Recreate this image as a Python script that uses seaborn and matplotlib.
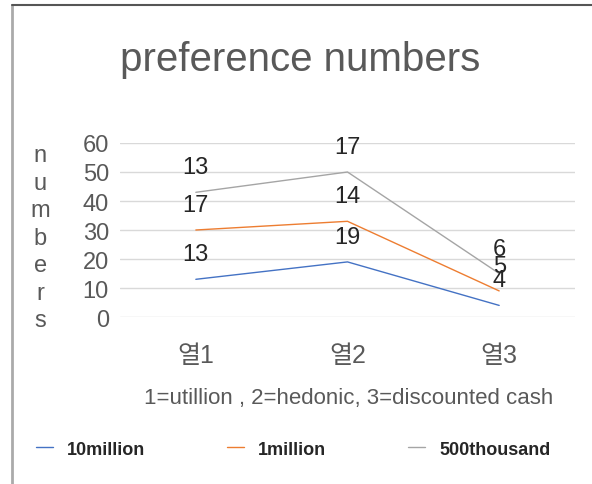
import matplotlib
matplotlib.use("Agg")
import matplotlib.pyplot as plt
import seaborn as sns
import pandas as pd
import numpy as np
from matplotlib.lines import Line2D

categories = ["열1", "열2", "열3"]
series_names = ["10million", "1million", "500thousand"]
v_10million = [13, 19, 4]
v_1million = [17, 14, 5]
v_500thousand = [13, 17, 6]
colors = ["#4472C4", "#ED7D31", "#A5A5A5"]
yticks = [0, 10, 20, 30, 40, 50, 60]

sns.set_theme(style="white")
plt.rcParams["font.family"] = ["Liberation Sans", "Noto Sans CJK KR", "DejaVu Sans"]

values = [v_10million, v_1million, v_500thousand]
cum = np.cumsum(np.array(values), axis=0)
rows = []
for si, name in enumerate(series_names):
    for ci, cat in enumerate(categories):
        rows.append({"category": cat, "series": name, "stacked": cum[si][ci], "value": values[si][ci], "xi": ci})
df = pd.DataFrame(rows)

fig = plt.figure(figsize=(5.92, 4.85), dpi=100)
fig.patch.set_facecolor("white")
ax = fig.add_axes([0.2027, 0.3443, 0.7686, 0.3588])

sns.lineplot(data=df, x="xi", y="stacked", hue="series", palette=colors,
             hue_order=series_names, linewidth=1.0, ax=ax, legend=False, sort=False)

for _, r in df.iterrows():
    ax.annotate(str(r["value"]), (r["xi"], r["stacked"]), xytext=(0, 18),
                textcoords="offset points", ha="center", va="center",
                fontsize=17, color="#262626")

ax.set_xlim(-0.5, 2.5)
ax.set_ylim(0, 60)
ax.set_yticks(yticks)
ax.set_yticklabels([str(t) for t in yticks], fontsize=17, color="#595959")
ax.set_xticks(range(len(categories)))
ax.set_xticklabels(categories, fontsize=18, color="#595959")
ax.tick_params(axis="y", length=0, pad=8)
ax.tick_params(axis="x", length=0, pad=19)
ax.grid(axis="y", color="#D9D9D9", linewidth=1.0)
ax.set_axisbelow(True)
for s in ax.spines.values():
    s.set_visible(False)
ax.set_xlabel("")
ax.set_ylabel("")

fig.text(0.507, 0.876, "preference numbers", ha="center", va="center",
         fontsize=29, color="#595959")
fig.text(0.068, 0.508, "n\nu\nm\nb\ne\nr\ns", ha="center", va="center",
         fontsize=17, color="#595959", linespacing=1.32)
fig.text(0.589, 0.179, "1=utillion , 2=hedonic, 3=discounted cash", ha="center",
         va="center", fontsize=16, color="#595959")

handles = [Line2D([0], [0], color=c, linewidth=1.0) for c in colors]
fig.legend(handles, series_names, loc="center", bbox_to_anchor=(0.495, 0.072),
           ncol=3, frameon=False, prop={"size": 13, "weight": "bold"},
           handlelength=0.95, handletextpad=0.8, columnspacing=4.5)

fig.add_artist(Line2D([0.021, 0.021], [0, 0.988], transform=fig.transFigure,
                      color="#AAAAAA", linewidth=2))
fig.add_artist(Line2D([0.02, 1.0], [0.988, 0.988], transform=fig.transFigure,
                      color="#555555", linewidth=1.5))

fig.savefig("out.png", dpi=100, facecolor="white")
